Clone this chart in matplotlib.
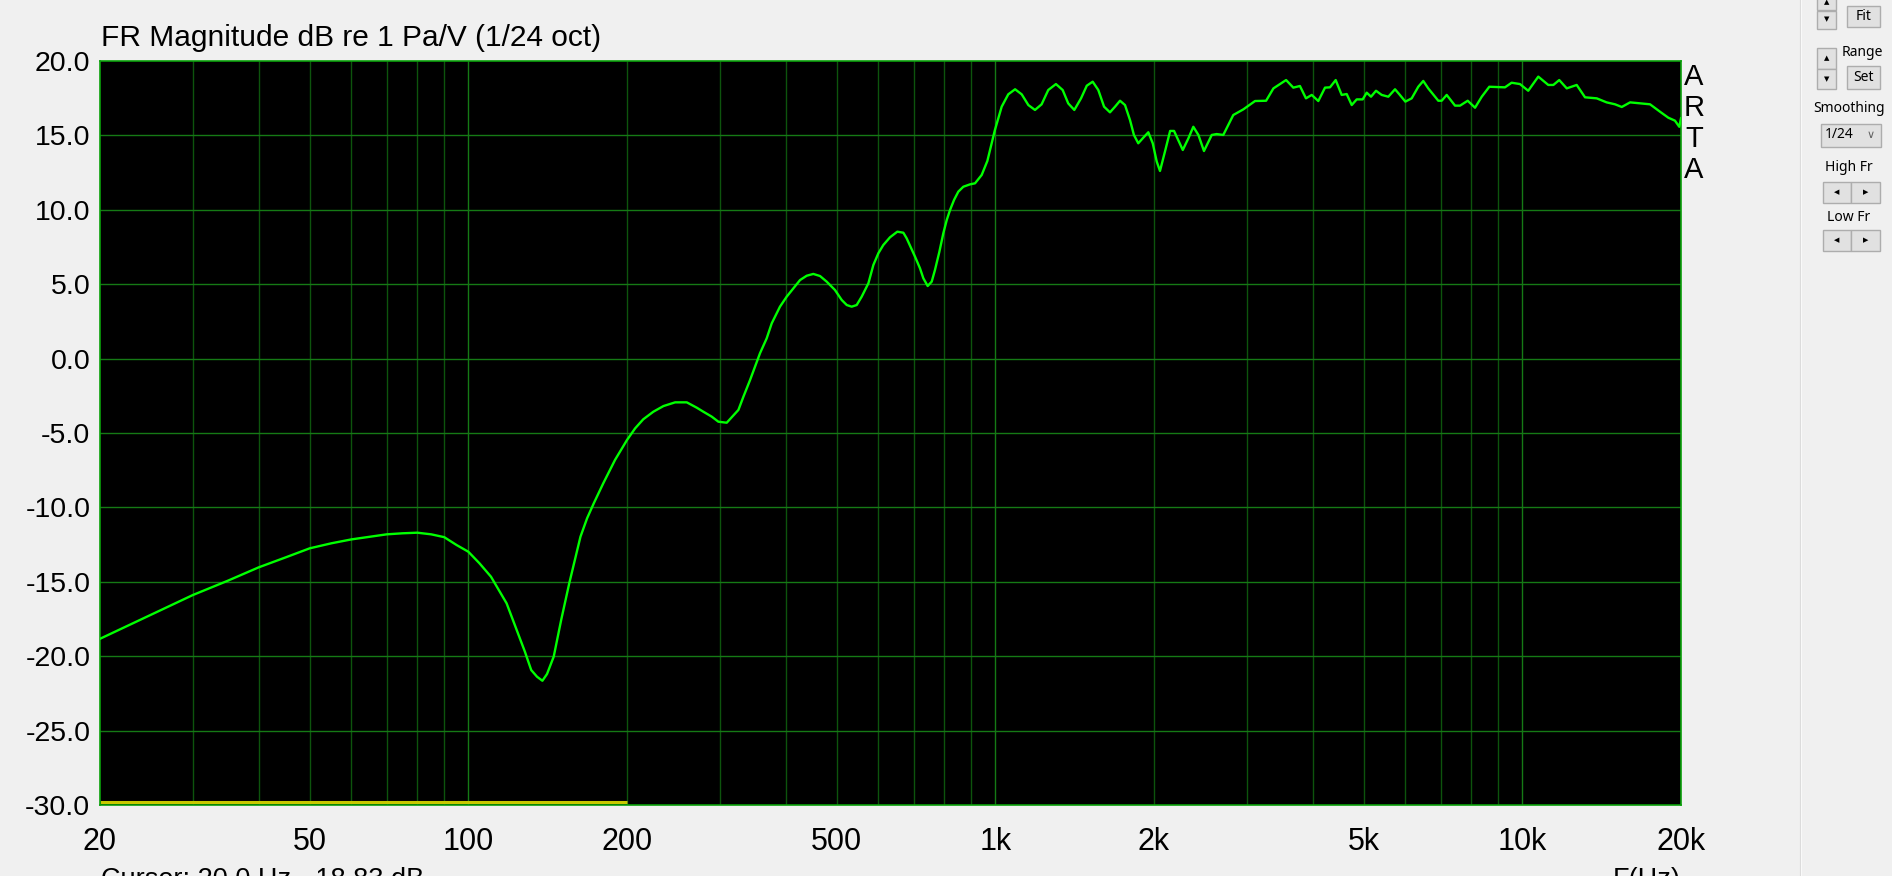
import numpy as np
import matplotlib
matplotlib.use("Agg")
import matplotlib.pyplot as plt
from matplotlib.patches import Rectangle

plt.rcParams['font.family'] = ['Liberation Sans', 'DejaVu Sans']

# frequency response
freq = [20, 30, 35, 40, 45, 50, 55, 60, 65, 70, 75, 80, 85, 90, 95, 100, 105,
        110.4, 118.2, 124.2, 128, 131.6, 135, 138.2, 141, 145.2, 150, 155.4,
        163.2, 168, 173, 180.3, 189.8, 200, 207.2, 214.7, 224.4, 234.5, 246.8,
        259.7, 271.3, 279.2, 289.6, 298.1, 309.2, 325.4, 332.6, 342.4, 357.6,
        368.2, 376.4, 390.2, 401.8, 426, 438.6, 451.4, 464.8, 478.6, 496.2, 511,
        522.4, 533.8, 545.6, 557.6, 574.2, 586.8, 599.8, 612.8, 631, 651.6, 669,
        678.8, 704, 719.4, 730, 744, 757.2, 768, 783, 796.6, 808.6, 820.4,
        834.8, 850.6, 869.4, 895.2, 915, 942, 965.6, 998, 1028, 1058, 1090,
        1122, 1155, 1189, 1224, 1260, 1303, 1342, 1375, 1412, 1454, 1491, 1530,
        1568, 1608, 1650, 1687, 1724, 1762, 1801, 1832, 1867, 1909, 1951, 1989,
        2024, 2053, 2098, 2146, 2183, 2268, 2324, 2375, 2428, 2488, 2574, 2630,
        2707, 2828, 2955, 3110, 3264, 3370, 3562, 3676, 3784, 3885, 3984, 4100,
        4222, 4315, 4424, 4541, 4642, 4745, 4849, 4977, 5066, 5162, 5276, 5409,
        5567, 5733, 5843, 5998, 6166, 6346, 6486, 6629, 6926, 7030, 7185, 7452,
        7616, 7876, 8132, 8374, 8656, 9268, 9542, 9896, 10260, 10720, 11200,
        11450, 11750, 12140, 12680, 13150, 13840, 14450, 14990, 15440, 16010,
        17470, 18250, 18920, 19480, 19850, 20000]
mag = [-18.83, -15.89, -14.92, -14.03, -13.36, -12.75, -12.41, -12.15, -11.97,
       -11.81, -11.74, -11.70, -11.81, -12.0, -12.53, -12.98, -13.76, -14.66,
       -16.45, -18.46, -19.69, -20.93, -21.38, -21.65, -21.2, -20.03, -17.57,
       -15.1, -11.97, -10.73, -9.72, -8.38, -6.81, -5.47, -4.69, -4.08, -3.57,
       -3.19, -2.94, -2.94, -3.30, -3.57, -3.90, -4.24, -4.31, -3.45, -2.56,
       -1.44, 0.36, 1.36, 2.37, 3.49, 4.16, 5.28, 5.57, 5.69, 5.55, 5.17, 4.61,
       3.94, 3.60, 3.49, 3.60, 4.16, 5.06, 6.29, 7.08, 7.63, 8.15, 8.53, 8.46,
       8.08, 6.85, 6.07, 5.40, 4.88, 5.17, 5.95, 7.18, 8.42, 9.31, 9.99, 10.66,
       11.22, 11.55, 11.71, 11.78, 12.34, 13.28, 15.36, 16.93, 17.76, 18.10,
       17.76, 17.04, 16.71, 17.09, 18.05, 18.45, 18.05, 17.15, 16.71, 17.49,
       18.34, 18.61, 18.05, 16.93, 16.55, 16.93, 17.33, 17.04, 16.03, 15.03,
       14.47, 14.85, 15.21, 14.47, 13.24, 12.61, 13.91, 15.30, 15.30, 14.02,
       14.80, 15.58, 15.03, 13.95, 15.03, 15.09, 15.03, 16.37, 16.75, 17.31,
       17.33, 18.16, 18.72, 18.21, 18.32, 17.49, 17.72, 17.31, 18.21, 18.23,
       18.72, 17.72, 17.78, 17.04, 17.42, 17.42, 17.87, 17.60, 18.00, 17.72,
       17.60, 18.10, 17.76, 17.27, 17.49, 18.27, 18.66, 18.16, 17.33, 17.33,
       17.72, 17.0, 17.0, 17.33, 16.86, 17.60, 18.27, 18.23, 18.54, 18.45,
       18.00, 18.95, 18.39, 18.39, 18.72, 18.16, 18.39, 17.56, 17.49, 17.22,
       17.09, 16.91, 17.22, 17.09, 16.59, 16.19, 15.99, 15.58, 16.15]

cursor_range = [20, 200]
cursor_level = -29.8

x_major = [20, 50, 100, 200, 500, 1000, 2000, 5000, 10000, 20000]
x_labels = ['20', '50', '100', '200', '500', '1k', '2k', '5k', '10k', '20k']
y_ticks = list(range(-30, 25, 5))

W, H = 1892, 876
fig = plt.figure(figsize=(W / 100, H / 100), dpi=100)
fig.patch.set_facecolor('#f0f0f0')

L, R, T, B = 100, 1681, 61, 805
ax = fig.add_axes([L / W, 1 - B / H, (R - L) / W, (B - T) / H])
ax.set_facecolor('black')
ax.set_xscale('log')
ax.set_xlim(20, 20000)
ax.set_ylim(-30, 20)

# grid: every 1..9 per decade, decades a bit brighter
for dec in [10, 100, 1000, 10000]:
    for k in range(1, 10):
        f = dec * k
        if f <= 20 or f >= 20000:
            continue
        c = '#157a15' if k == 1 else '#0d540d'
        ax.axvline(f, color=c, lw=1, zorder=1)
for v in y_ticks[1:-1]:
    ax.axhline(v, color='#157a15', lw=1, zorder=1)

ax.plot(freq, mag, color='#00ff00', lw=1.7, zorder=3)
ax.plot(cursor_range, [cursor_level, cursor_level], color='#c8c800', lw=2.2,
        zorder=2, solid_capstyle='butt')

for s in ax.spines.values():
    s.set_color('#0aa00a')
    s.set_linewidth(1.2)

ax.set_xticks(x_major)
ax.set_xticklabels(x_labels)
ax.set_xticks([], minor=True)
ax.set_yticks(y_ticks)
ax.set_yticklabels(['%.1f' % v for v in y_ticks])
ax.tick_params(axis='x', length=0, pad=15.5, labelsize=22, colors='black')
ax.tick_params(axis='y', length=0, pad=7, labelsize=20.5, colors='black')

fig.text(101 / W, 1 - 46 / H, 'FR Magnitude dB re 1 Pa/V (1/24 oct)',
         fontsize=21.5, va='baseline', ha='left')
for i, ch in enumerate('ARTA'):
    fig.text(1694 / W, 1 - (77 + 31 * i) / H, ch, fontsize=21,
             ha='center', va='center')
fig.text(101 / W, 1 - 867 / H, 'Cursor: 20.0 Hz, -18.83 dB', fontsize=19.5,
         ha='left', va='top')
fig.text(1681 / W, 1 - 867 / H, 'F(Hz)', fontsize=19.5, ha='right', va='top')

# right control panel
fig.add_artist(plt.Line2D([1801 / W, 1801 / W], [0, 1], color='#fbfbfb',
                          lw=1.5, transform=fig.transFigure))
fig.add_artist(plt.Line2D([1799.5 / W, 1799.5 / W], [0, 1], color='#dcdcdc',
                          lw=0.8, transform=fig.transFigure))


def button(x0, y0, x1, y1, label=None, size=10):
    fig.add_artist(Rectangle((x0 / W, 1 - y1 / H), (x1 - x0) / W, (y1 - y0) / H,
                             transform=fig.transFigure, facecolor='#e1e1e1',
                             edgecolor='#adadad', lw=1))
    if label:
        fig.text((x0 + x1) / 2 / W, 1 - (y0 + y1) / 2 / H, label, fontsize=size,
                 ha='center', va='center', family=['Noto Sans', 'DejaVu Sans'])


ui = dict(fontsize=10, ha='center', va='center', family=['Noto Sans', 'DejaVu Sans'])
button(1817, -5, 1836, 9.5, '\u25b2', 5)
button(1817, 10.5, 1836, 29, '\u25bc', 5)
button(1847, 6, 1880, 27, 'Fit')
fig.text(1862 / W, 1 - 52 / H, 'Range', **ui)
button(1817, 48.5, 1836, 68.5, '\u25b2', 5)
button(1817, 69.5, 1836, 89, '\u25bc', 5)
button(1847, 66, 1880, 89, 'Set')
fig.text(1849 / W, 1 - 109 / H, 'Smoothing', **ui)
button(1821, 123.5, 1880.5, 146.5)
fig.text(1825 / W, 1 - 135 / H, '1/24', fontsize=10, ha='left', va='center',
         family=['Noto Sans', 'DejaVu Sans'])
fig.text(1871 / W, 1 - 135 / H, '\u2228', fontsize=8, ha='center', va='center',
         color='#606060', family=['DejaVu Sans'])
fig.text(1849 / W, 1 - 167.5 / H, 'High Fr', **ui)
button(1822.5, 182.5, 1851, 202.5, '\u25c0', 5)
button(1851, 182.5, 1879.5, 202.5, '\u25b6', 5)
fig.text(1849 / W, 1 - 217.5 / H, 'Low Fr', **ui)
button(1822.5, 230.5, 1851, 250.5, '\u25c0', 5)
button(1851, 230.5, 1879.5, 250.5, '\u25b6', 5)

fig.savefig('out.png', dpi=100, facecolor=fig.get_facecolor())
